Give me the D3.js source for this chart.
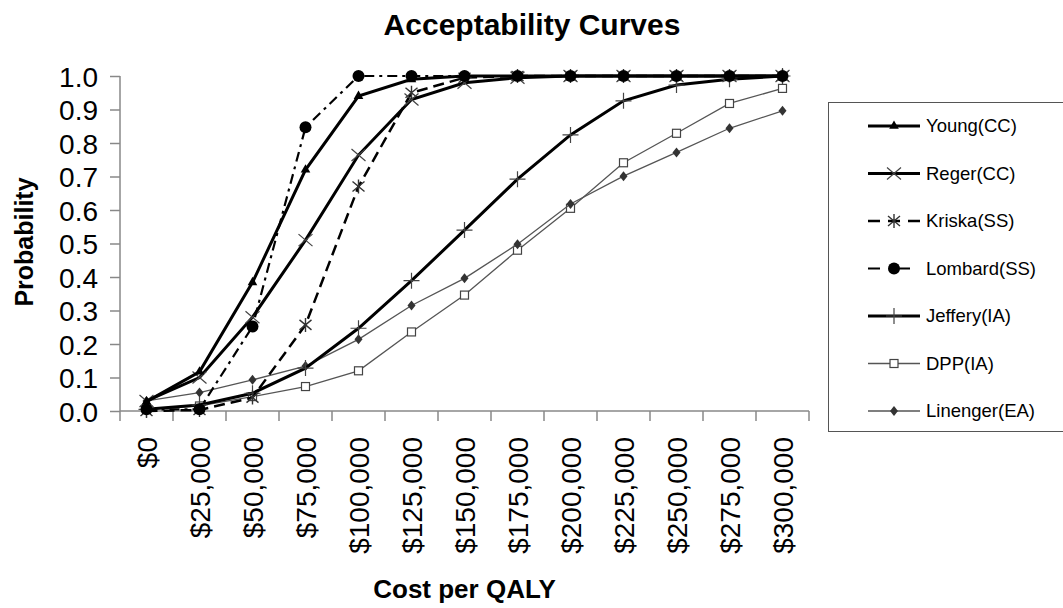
<!doctype html>
<html>

<head>
    <meta charset="utf-8">
    <title>Acceptability Curves</title>
    <style>
    body { margin: 0; background: #fff; }
    text { font-family: "Liberation Sans", Arial, sans-serif; fill: #000; }
    .axis path, .axis line { stroke: #888; stroke-width: 1.5px; }
    </style>
    <script src="https://cdn.jsdelivr.net/npm/d3@7"></script>
</head>

<body>
    <svg width="1063" height="608"></svg>
    <script>
    // categories on the x axis
    var costs = ["$0", "$25,000", "$50,000", "$75,000", "$100,000", "$125,000", "$150,000",
        "$175,000", "$200,000", "$225,000", "$250,000", "$275,000", "$300,000"];

    // probability values
    var young    = [0.028, 0.117, 0.384, 0.72, 0.94, 0.99, 1.0, 1.0, 1.0, 1.0, 1.0, 1.0, 1.0];
    var reger    = [0.03, 0.10, 0.28, 0.51, 0.764, 0.93, 0.98, 0.995, 1.0, 1.0, 1.0, 1.0, 1.0];
    var kriska   = [0.0, 0.003, 0.04, 0.257, 0.67, 0.95, 0.995, 1.0, 1.0, 1.0, 1.0, 1.0, 1.0];
    var lombard  = [0.005, 0.005, 0.252, 0.847, 1.0, 1.0, 1.0, 1.0, 1.0, 1.0, 1.0, 1.0, 1.0];
    var jeffery  = [0.005, 0.018, 0.053, 0.128, 0.247, 0.389, 0.54, 0.692, 0.824, 0.926, 0.973, 0.99, 1.0];
    var dpp      = [0.005, 0.015, 0.043, 0.073, 0.12, 0.236, 0.346, 0.48, 0.605, 0.741, 0.829, 0.918, 0.963];
    var linenger = [0.03, 0.055, 0.093, 0.134, 0.214, 0.315, 0.396, 0.498, 0.618, 0.701, 0.772, 0.844, 0.896];

    var yTicks = d3.range(0, 11).map(function(d) { return d / 10; });

    var series = [
        { name: "Young(CC)", values: young, width: 3, color: "#000", dash: null, marker: "triangle" },
        { name: "Reger(CC)", values: reger, width: 3, color: "#000", dash: null, marker: "x" },
        { name: "Kriska(SS)", values: kriska, width: 2.5, color: "#000", dash: "11,6", marker: "asterisk" },
        { name: "Lombard(SS)", values: lombard, width: 2.2, color: "#000", dash: "10,5,3,5", marker: "circle" },
        { name: "Jeffery(IA)", values: jeffery, width: 3, color: "#000", dash: null, marker: "plus" },
        { name: "DPP(IA)", values: dpp, width: 1.3, color: "#555", dash: null, marker: "square" },
        { name: "Linenger(EA)", values: linenger, width: 1.3, color: "#555", dash: null, marker: "diamond" }
    ];

    var svg = d3.select("svg"),
        plotL = 120, plotR = 809, plotT = 76, plotB = 411;

    var x = d3.scaleBand().domain(costs).range([plotL, plotR]);
    var y = d3.scaleLinear().domain([0, 1]).range([plotB, plotT]);
    var cx = function(c) { return x(c) + x.bandwidth() / 2; };

    // title
    svg.append("text")
        .attr("x", 532).attr("y", 35)
        .attr("text-anchor", "middle")
        .style("font-size", "30px").style("font-weight", "bold")
        .text("Acceptability Curves");

    // y axis
    var yAxis = svg.append("g").attr("class", "axis")
        .attr("transform", "translate(" + plotL + ",0)")
        .call(d3.axisLeft(y).tickValues(yTicks).tickFormat(d3.format(".1f")).tickSize(10).tickPadding(12));
    yAxis.select(".domain").attr("d", "M0," + plotT + "V" + plotB);
    yAxis.selectAll("text").style("font-size", "28px").attr("dy", "0.36em").style("font-family", "Liberation Sans, Arial, sans-serif");

    // x axis: ticks at category boundaries
    var xg = svg.append("g").attr("class", "axis");
    xg.append("line")
        .attr("x1", plotL).attr("x2", plotR)
        .attr("y1", plotB).attr("y2", plotB);
    xg.selectAll(".tk").data(costs.concat(["end"]))
        .enter().append("line").attr("class", "tk")
        .attr("x1", function(d) { return d === "end" ? plotR : x(d); })
        .attr("x2", function(d) { return d === "end" ? plotR : x(d); })
        .attr("y1", plotB).attr("y2", plotB + 10);
    xg.selectAll(".lb").data(costs)
        .enter().append("text").attr("class", "lb")
        .attr("transform", function(d) { return "translate(" + (cx(d) + 10) + "," + (plotB + 26) + ") rotate(-90)"; })
        .attr("text-anchor", "end")
        .style("font-size", "28px")
        .text(function(d) { return d; });

    // axis titles
    svg.append("text")
        .attr("transform", "translate(33,242) rotate(-90)")
        .attr("text-anchor", "middle")
        .style("font-size", "25px").style("font-weight", "bold")
        .text("Probability");
    svg.append("text")
        .attr("x", (plotL + plotR) / 2).attr("y", 598)
        .attr("text-anchor", "middle")
        .style("font-size", "26px").style("font-weight", "bold")
        .text("Cost per QALY");

    function drawMarker(g, type) {
        if (type === "triangle") {
            g.append("path").attr("d", d3.symbol().type(d3.symbolTriangle).size(40)).attr("fill", "#000");
        } else if (type === "circle") {
            g.append("circle").attr("r", 6).attr("fill", "#000");
        } else if (type === "square") {
            g.append("rect").attr("x", -4).attr("y", -4).attr("width", 8).attr("height", 8)
                .attr("fill", "#fff").attr("stroke", "#444").attr("stroke-width", 1.2);
        } else if (type === "diamond") {
            g.append("path").attr("d", "M0,-5L4,0L0,5L-4,0Z").attr("fill", "#333");
        } else if (type === "x") {
            g.append("path").attr("d", "M-7,-6L7,6M-7,6L7,-6").attr("stroke", "#444").attr("stroke-width", 1.2);
        } else if (type === "plus") {
            g.append("path").attr("d", "M-8,0L8,0M0,-8L0,8").attr("stroke", "#444").attr("stroke-width", 1.2);
        } else if (type === "asterisk") {
            g.append("path").attr("d", "M-6,-5L6,5M-6,5L6,-5M0,-7L0,7").attr("stroke", "#333").attr("stroke-width", 1.4);
        }
    }

    var line = d3.line()
        .x(function(d, i) { return cx(costs[i]); })
        .y(function(d) { return y(d); });

    // draw thin series first so thick ones sit on top
    var order = [5, 6, 4, 2, 1, 0, 3];
    order.forEach(function(k) {
        var s = series[k];
        svg.append("path")
            .datum(s.values)
            .attr("fill", "none")
            .attr("stroke", s.color)
            .attr("stroke-width", s.width)
            .attr("stroke-dasharray", s.dash)
            .attr("d", line);
        svg.selectAll(null).data(s.values).enter().append("g")
            .attr("transform", function(d, i) { return "translate(" + cx(costs[i]) + "," + y(d) + ")"; })
            .each(function() { drawMarker(d3.select(this), s.marker); });
    });

    // legend
    var lg = svg.append("g");
    lg.append("rect")
        .attr("x", 828.5).attr("y", 102.5).attr("width", 260).attr("height", 329)
        .attr("fill", "#fff").attr("stroke", "#555").attr("stroke-width", 1);
    var items = lg.selectAll(".item").data(series).enter().append("g")
        .attr("transform", function(d, i) { return "translate(0," + (126 + i * 47.5) + ")"; });
    items.append("line")
        .attr("x1", 868).attr("x2", 920).attr("y1", 0).attr("y2", 0)
        .attr("stroke", function(d) { return d.color; })
        .attr("stroke-width", function(d) { return d.width; })
        .attr("stroke-dasharray", function(d) { return d.dash ? (d.marker === "circle" ? "12,10,4,4" : "12,8") : null; });
    items.append("g").attr("transform", "translate(894,0)")
        .each(function(d) { drawMarker(d3.select(this), d.marker); });
    items.append("text")
        .attr("x", 926).attr("y", 0).attr("dy", "0.35em")
        .style("font-size", "18.5px")
        .text(function(d) { return d.name; });
    </script>
</body>

</html>
